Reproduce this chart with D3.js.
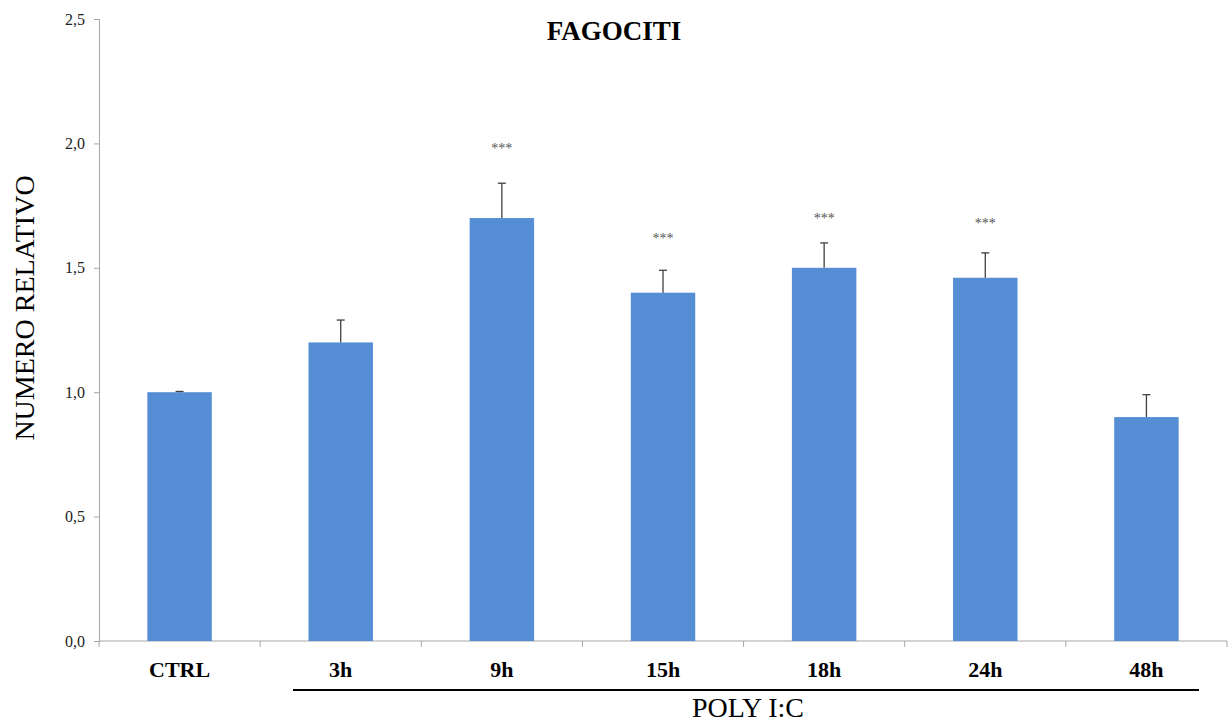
<!DOCTYPE html>
<html>
<head>
<meta charset="utf-8">
<script src="https://cdn.jsdelivr.net/npm/d3@7"></script>
<style>
  body { margin: 0; background: #fff; }
  text { font-family: "Liberation Serif", "Times New Roman", serif; }
</style>
</head>
<body>
<div id="chart"></div>
<script>
var categories = ["CTRL", "3h", "9h", "15h", "18h", "24h", "48h"];
var values = [1.0, 1.2, 1.7, 1.4, 1.5, 1.46, 0.9];
var errors = [0.003, 0.09, 0.14, 0.09, 0.1, 0.1, 0.09];
var stars = ["", "", "***", "***", "***", "***", ""];
var starLevel = [0, 0, 1.98, 1.62, 1.70, 1.68, 0];
var yTicks = [0, 0.5, 1.0, 1.5, 2.0, 2.5];

var width = 1230, height = 724;
var margin = { top: 19, right: 3, bottom: 83, left: 99 };

var svg = d3.select("#chart").append("svg")
  .attr("width", width)
  .attr("height", height);

var x = d3.scaleBand()
  .domain(categories)
  .range([margin.left, width - margin.right])
  .paddingInner(0.6)
  .paddingOuter(0.3);

var y = d3.scaleLinear()
  .domain([0, 2.5])
  .range([height - margin.bottom, margin.top]);

var fmt = function(d) { return d3.format(".1f")(d).replace(".", ","); };

// y axis
var yAxis = svg.append("g")
  .attr("transform", "translate(" + margin.left + ",0)")
  .call(d3.axisLeft(y).tickValues(yTicks).tickFormat(fmt).tickSize(5).tickPadding(9));
yAxis.attr("font-family", "Liberation Serif, serif");
yAxis.selectAll("line, path").attr("stroke", "#a6a6a6");
yAxis.selectAll("text").style("font-size", "16px").attr("fill", "#222");

// x axis line with ticks between categories
var x0 = height - margin.bottom;
svg.append("line")
  .attr("x1", margin.left).attr("x2", width - margin.right)
  .attr("y1", x0).attr("y2", x0)
  .attr("stroke", "#a6a6a6");
var step = x.step();
var bounds = d3.range(categories.length + 1).map(function(i) { return x(categories[0]) - x.paddingOuter() * step + i * step; });
svg.selectAll(".xtick").data(bounds).enter().append("line")
  .attr("x1", function(d) { return d; }).attr("x2", function(d) { return d; })
  .attr("y1", x0).attr("y2", x0 + 6)
  .attr("stroke", "#a6a6a6");

// bars
svg.selectAll(".bar").data(categories).enter().append("rect")
  .attr("x", function(d) { return x(d); })
  .attr("width", x.bandwidth())
  .attr("y", function(d, i) { return y(values[i]); })
  .attr("height", function(d, i) { return y(0) - y(values[i]); })
  .attr("fill", "#558ed5");

// error bars (upper only)
var eb = svg.selectAll(".err").data(categories).enter().append("g")
  .attr("stroke", "#404040").attr("stroke-width", 1.3);
eb.append("line")
  .attr("x1", function(d) { return x(d) + x.bandwidth() / 2; })
  .attr("x2", function(d) { return x(d) + x.bandwidth() / 2; })
  .attr("y1", function(d, i) { return y(values[i]); })
  .attr("y2", function(d, i) { return y(values[i] + errors[i]); });
eb.append("line")
  .attr("x1", function(d) { return x(d) + x.bandwidth() / 2 - 4; })
  .attr("x2", function(d) { return x(d) + x.bandwidth() / 2 + 4; })
  .attr("y1", function(d, i) { return y(values[i] + errors[i]); })
  .attr("y2", function(d, i) { return y(values[i] + errors[i]); });

// significance stars
svg.selectAll(".star").data(categories).enter().append("text")
  .attr("x", function(d) { return x(d) + x.bandwidth() / 2; })
  .attr("y", function(d, i) { return y(starLevel[i]) + 5; })
  .attr("text-anchor", "middle")
  .style("font-size", "14px")
  .attr("fill", "#555")
  .text(function(d, i) { return stars[i]; });

// category labels
svg.selectAll(".xlab").data(categories).enter().append("text")
  .attr("x", function(d) { return x(d) + x.bandwidth() / 2; })
  .attr("y", 677)
  .attr("text-anchor", "middle")
  .style("font-size", "22px")
  .style("font-weight", "bold")
  .text(function(d) { return d; });

// POLY I:C bracket
svg.append("line")
  .attr("x1", 293).attr("x2", 1199)
  .attr("y1", 690).attr("y2", 690)
  .attr("stroke", "#000").attr("stroke-width", 2);
svg.append("text")
  .attr("x", 748).attr("y", 717)
  .attr("text-anchor", "middle")
  .style("font-size", "28px")
  .text("POLY I:C");

// title
svg.append("text")
  .attr("x", 614).attr("y", 40)
  .attr("text-anchor", "middle")
  .style("font-size", "27px")
  .style("font-weight", "bold")
  .text("FAGOCITI");

// y label
svg.append("text")
  .attr("transform", "translate(34,308) rotate(-90)")
  .attr("text-anchor", "middle")
  .style("font-size", "28px")
  .text("NUMERO RELATIVO");
</script>
</body>
</html>
